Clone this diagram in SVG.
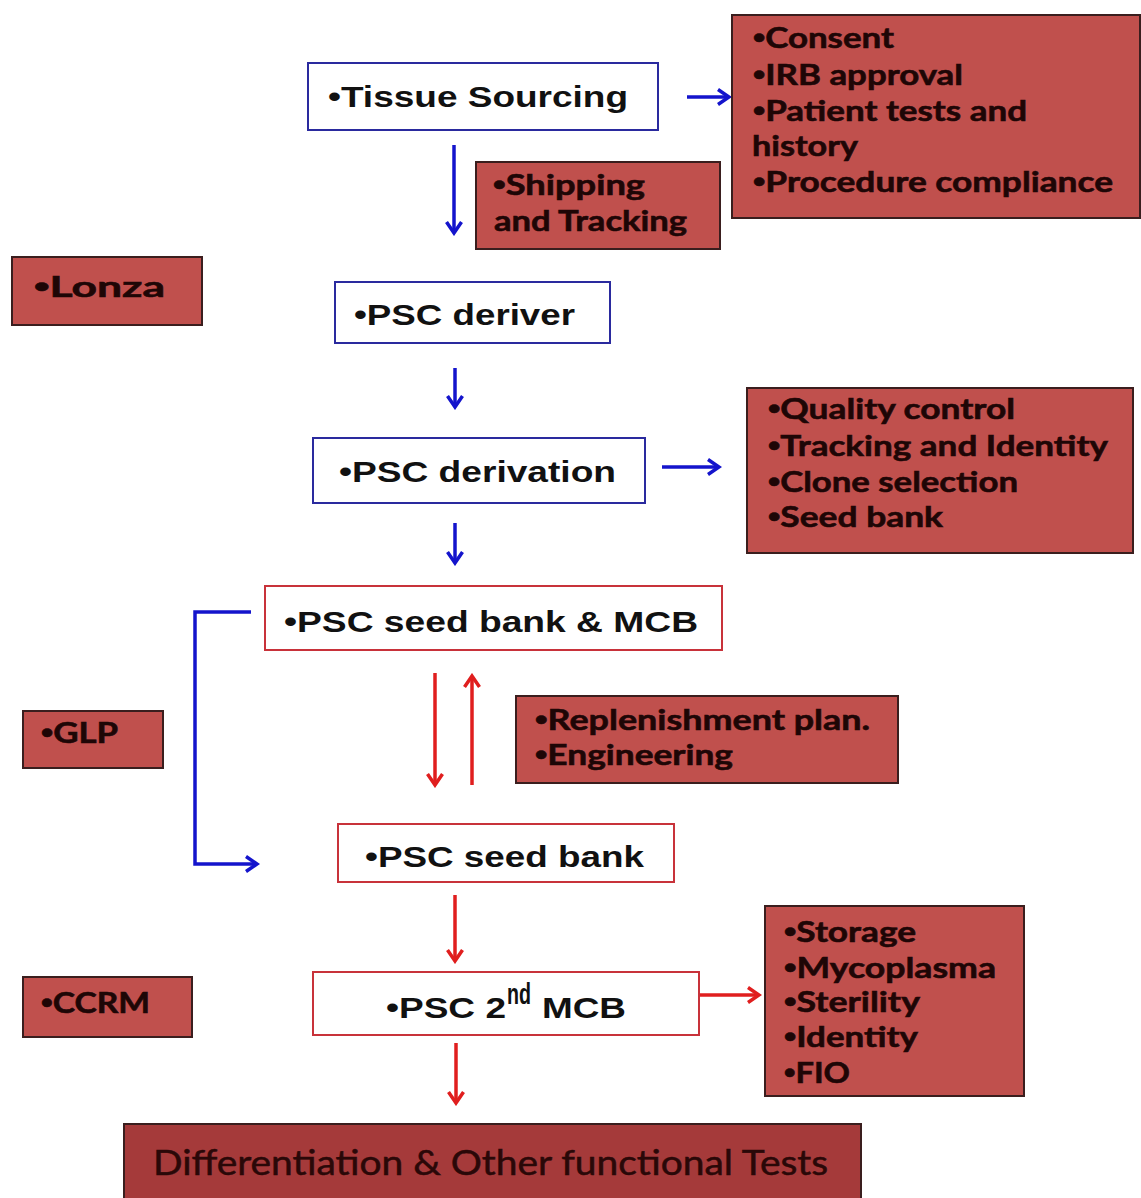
<svg xmlns="http://www.w3.org/2000/svg" width="1141" height="1198" viewBox="0 0 1141 1198">
<style>
.wb{fill:#ffffff;stroke:#2a2a9e;stroke-width:2}
.wr{fill:#ffffff;stroke:#c8323a;stroke-width:2}
.rb{fill:#c0504d;stroke:#3a1e1e;stroke-width:2}
.db{fill:#a53a3a;stroke:#3a1e1e;stroke-width:2}
.ta{font-family:"Liberation Sans",Arial,sans-serif;font-weight:bold;font-size:30px;fill:#111111}
.tc{font-family:Lato,"Open Sans",sans-serif;font-weight:bold;font-size:29px;fill:#1e0606;stroke:#1e0606;stroke-width:0.6}
.tr{font-family:Lato,"Open Sans",sans-serif;font-weight:normal;font-size:34px;fill:#2a0808;stroke:#2a0808;stroke-width:0.5}
.bu{font-family:"Liberation Sans",Arial,sans-serif}
.cb{fill:none;stroke:#1414cc;stroke-width:3.5}
.cr{fill:none;stroke:#e01e1e;stroke-width:3.5}
</style>
<defs>
<marker id="ab" viewBox="0 0 18 18" markerWidth="18" markerHeight="18" refX="15" refY="9" orient="auto" markerUnits="userSpaceOnUse">
<path d="M4,1.5 L15,9 L4,16.5" fill="none" stroke="#1414cc" stroke-width="3.5"/>
</marker>
<marker id="ar" viewBox="0 0 18 18" markerWidth="18" markerHeight="18" refX="15" refY="9" orient="auto" markerUnits="userSpaceOnUse">
<path d="M4,1.5 L15,9 L4,16.5" fill="none" stroke="#e01e1e" stroke-width="3.5"/>
</marker>
</defs>
<rect width="1141" height="1198" fill="#ffffff"/>

<g id="connectors">
<path class="cb" d="M687,97 L729,97" marker-end="url(#ab)"/>
<path class="cb" d="M454,145 L454,233" marker-end="url(#ab)"/>
<path class="cb" d="M455,368 L455,407" marker-end="url(#ab)"/>
<path class="cb" d="M662,467 L719,467" marker-end="url(#ab)"/>
<path class="cb" d="M455,523 L455,563" marker-end="url(#ab)"/>
<path class="cb" d="M251,612 L195,612 L195,864 L257,864" marker-end="url(#ab)"/>
<path class="cr" d="M435,673 L435,785" marker-end="url(#ar)"/>
<path class="cr" d="M472,785 L472,676" marker-end="url(#ar)"/>
<path class="cr" d="M455,895 L455,961" marker-end="url(#ar)"/>
<path class="cr" d="M699,995 L759,995" marker-end="url(#ar)"/>
<path class="cr" d="M456,1043 L456,1103" marker-end="url(#ar)"/>
</g>

<g id="tissue-sourcing">
<rect class="wb" x="308" y="63" width="350" height="67"/>
<text class="ta" x="328" y="107" font-size="33" textLength="300" lengthAdjust="spacingAndGlyphs">•Tissue Sourcing</text>
</g>

<g id="consent">
<rect class="rb" x="732" y="15" width="408" height="203"/>
<text class="tc" x="753" y="48" textLength="141" lengthAdjust="spacingAndGlyphs"><tspan class="bu">•</tspan>Consent</text>
<text class="tc" x="753" y="85" textLength="210" lengthAdjust="spacingAndGlyphs"><tspan class="bu">•</tspan>IRB approval</text>
<text class="tc" x="753" y="121" textLength="274" lengthAdjust="spacingAndGlyphs"><tspan class="bu">•</tspan>Patient tests and</text>
<text class="tc" x="752" y="156" textLength="106" lengthAdjust="spacingAndGlyphs">history</text>
<text class="tc" x="753" y="192" textLength="360" lengthAdjust="spacingAndGlyphs"><tspan class="bu">•</tspan>Procedure compliance</text>
</g>

<g id="shipping">
<rect class="rb" x="476" y="162" width="244" height="87"/>
<text class="tc" x="493" y="195" textLength="152" lengthAdjust="spacingAndGlyphs"><tspan class="bu">•</tspan>Shipping</text>
<text class="tc" x="494" y="231" textLength="193" lengthAdjust="spacingAndGlyphs">and Tracking</text>
</g>

<g id="lonza">
<rect class="rb" x="12" y="257" width="190" height="68"/>
<text class="tc" x="34" y="297" font-size="33" textLength="131" lengthAdjust="spacingAndGlyphs"><tspan class="bu">•</tspan>Lonza</text>
</g>

<g id="psc-deriver">
<rect class="wb" x="335" y="282" width="275" height="61"/>
<text class="ta" x="354" y="325" textLength="221" lengthAdjust="spacingAndGlyphs">•PSC deriver</text>
</g>

<g id="psc-derivation">
<rect class="wb" x="313" y="438" width="332" height="65"/>
<text class="ta" x="339" y="482" textLength="277" lengthAdjust="spacingAndGlyphs">•PSC derivation</text>
</g>

<g id="quality">
<rect class="rb" x="747" y="388" width="386" height="165"/>
<text class="tc" x="768" y="419" textLength="247" lengthAdjust="spacingAndGlyphs"><tspan class="bu">•</tspan>Quality control</text>
<text class="tc" x="768" y="456" textLength="340" lengthAdjust="spacingAndGlyphs"><tspan class="bu">•</tspan>Tracking and Identity</text>
<text class="tc" x="768" y="492" textLength="250" lengthAdjust="spacingAndGlyphs"><tspan class="bu">•</tspan>Clone selection</text>
<text class="tc" x="768" y="527" textLength="175" lengthAdjust="spacingAndGlyphs"><tspan class="bu">•</tspan>Seed bank</text>
</g>

<g id="psc-seed-bank-mcb">
<rect class="wr" x="265" y="586" width="457" height="64"/>
<text class="ta" x="284" y="632" textLength="414" lengthAdjust="spacingAndGlyphs">•PSC seed bank &amp; MCB</text>
</g>

<g id="glp">
<rect class="rb" x="23" y="711" width="140" height="57"/>
<text class="tc" x="41" y="743" font-size="30" textLength="77" lengthAdjust="spacingAndGlyphs"><tspan class="bu">•</tspan>GLP</text>
</g>

<g id="replenishment">
<rect class="rb" x="516" y="696" width="382" height="87"/>
<text class="tc" x="535" y="730" textLength="335" lengthAdjust="spacingAndGlyphs"><tspan class="bu">•</tspan>Replenishment plan.</text>
<text class="tc" x="535" y="765" textLength="198" lengthAdjust="spacingAndGlyphs"><tspan class="bu">•</tspan>Engineering</text>
</g>

<g id="psc-seed-bank">
<rect class="wr" x="338" y="824" width="336" height="58"/>
<text class="ta" x="365" y="867" textLength="279" lengthAdjust="spacingAndGlyphs">•PSC seed bank</text>
</g>

<g id="storage">
<rect class="rb" x="765" y="906" width="259" height="190"/>
<text class="tc" x="784" y="942" textLength="132" lengthAdjust="spacingAndGlyphs"><tspan class="bu">•</tspan>Storage</text>
<text class="tc" x="784" y="978" textLength="212" lengthAdjust="spacingAndGlyphs"><tspan class="bu">•</tspan>Mycoplasma</text>
<text class="tc" x="784" y="1012" textLength="136" lengthAdjust="spacingAndGlyphs"><tspan class="bu">•</tspan>Sterility</text>
<text class="tc" x="784" y="1047" textLength="134" lengthAdjust="spacingAndGlyphs"><tspan class="bu">•</tspan>Identity</text>
<text class="tc" x="784" y="1083" textLength="66" lengthAdjust="spacingAndGlyphs"><tspan class="bu">•</tspan>FIO</text>
</g>

<g id="ccrm">
<rect class="rb" x="23" y="977" width="169" height="60"/>
<text class="tc" x="41" y="1013" font-size="31" textLength="109" lengthAdjust="spacingAndGlyphs"><tspan class="bu">•</tspan>CCRM</text>
</g>

<g id="psc-2nd-mcb">
<rect class="wr" x="313" y="972" width="386" height="63"/>
<text class="ta" x="386" y="1018" textLength="120" lengthAdjust="spacingAndGlyphs">•PSC 2</text>
<text class="ta" x="507" y="1004" font-size="16" textLength="24" lengthAdjust="spacingAndGlyphs">nd</text>
<text class="ta" x="542" y="1018" textLength="84" lengthAdjust="spacingAndGlyphs">MCB</text>
</g>

<g id="differentiation">
<rect class="db" x="124" y="1124" width="737" height="80"/>
<text class="tr" x="153" y="1175" textLength="675" lengthAdjust="spacingAndGlyphs">Differentiation &amp; Other functional Tests</text>
</g>
</svg>
